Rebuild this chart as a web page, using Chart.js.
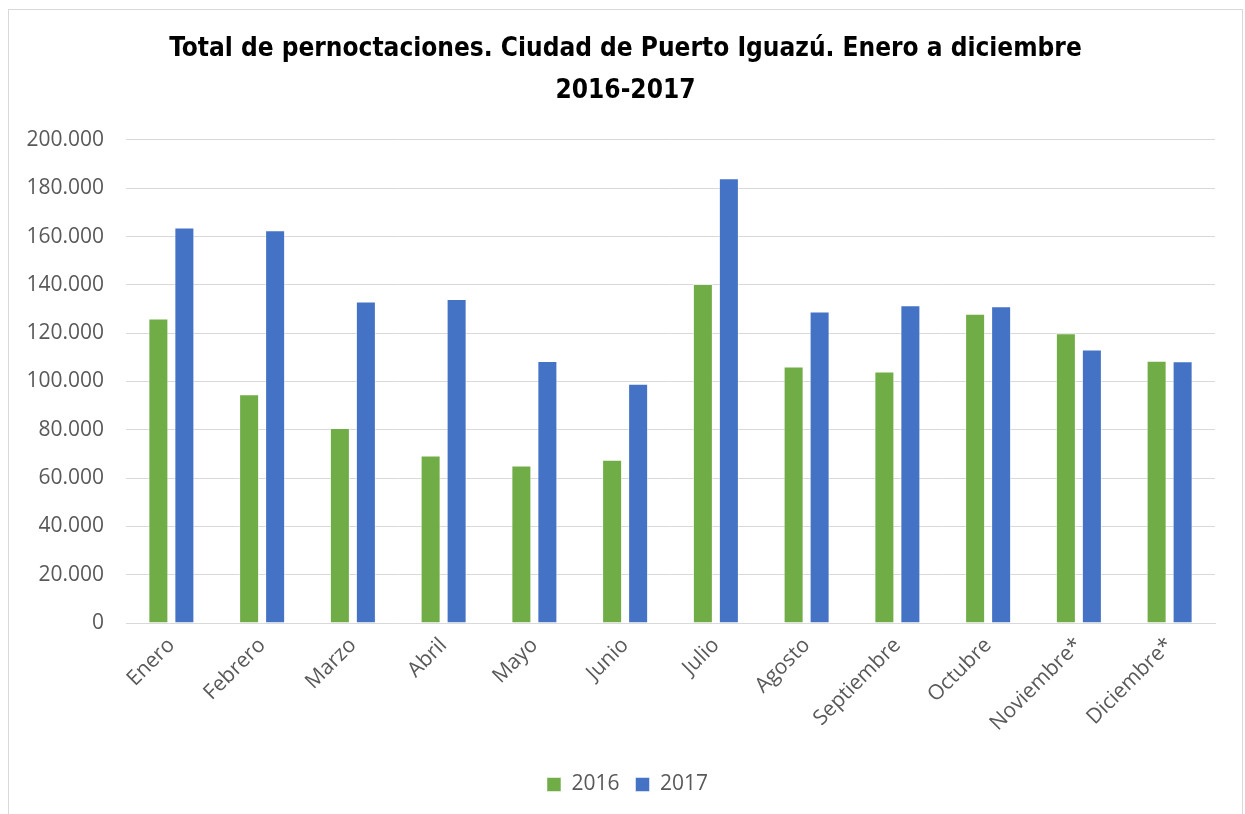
<!DOCTYPE html>
<html>
<head>
<meta charset="utf-8">
<script src="https://cdn.jsdelivr.net/npm/chart.js@4/dist/chart.umd.min.js"></script>
<style>
  html, body { margin: 0; padding: 0; background: #ffffff; overflow: hidden; }
  #frame { position: absolute; left: 8px; top: 9px; width: 1235px; height: 900px; border: 1px solid #d9d9d9; box-sizing: border-box; }
  #wrap { position: absolute; left: 0; top: 0; width: 1245px; height: 814px; }
</style>
</head>
<body>
<div id="frame"></div>
<div id="wrap"><canvas id="c" width="1245" height="814"></canvas></div>
<script>
const categories = ["Enero", "Febrero", "Marzo", "Abril", "Mayo", "Junio", "Julio", "Agosto", "Septiembre", "Octubre", "Noviembre*", "Diciembre*"];
const values2016 = [126100, 94700, 80700, 69400, 65200, 67600, 140400, 106200, 104100, 128100, 120000, 108600];
const values2017 = [163800, 162600, 133100, 134200, 108500, 99100, 184200, 129000, 131600, 131200, 113200, 108400];
const seriesNames = ["2016", "2017"];
const titleLines = ["Total de pernoctaciones. Ciudad de Puerto Iguazú. Enero a diciembre", "2016-2017"];
const yMin = 0, yMax = 200000, yStep = 20000;

function fmt(v) {
  return String(Math.round(v)).replace(/\B(?=(\d{3})+(?!\d))/g, ".");
}

const tickFont = { family: "'Open Sans', sans-serif", size: 21 };
const tickColor = "#595959";

const shiftBoxes = {
  id: "shiftBoxes",
  afterLayout(chart) {
    const lg = chart.legend;
    if (lg) { lg.left += 20; lg.right += 20; }
    const tb = chart.titleBlock;
    if (tb) { tb.left += 18; tb.right += 18; }
  }
};

new Chart(document.getElementById("c"), {
  type: "bar",
  data: {
    labels: categories,
    datasets: [
      { label: seriesNames[0], data: values2016, backgroundColor: "#70AD47", borderColor: "rgba(255,255,255,0.5)", borderWidth: 1, categoryPercentage: 0.573, barPercentage: 0.77 },
      { label: seriesNames[1], data: values2017, backgroundColor: "#4472C4", borderColor: "rgba(255,255,255,0.5)", borderWidth: 1, categoryPercentage: 0.573, barPercentage: 0.77 }
    ]
  },
  plugins: [shiftBoxes],
  options: {
    responsive: false,
    animation: false,
    devicePixelRatio: 1,
    layout: { padding: { left: 0, right: 30, top: 28, bottom: 9 } },
    plugins: {
      title: {
        display: true,
        text: titleLines,
        color: "#000000",
        font: { family: "'DejaVu Sans Condensed', 'DejaVu Sans', sans-serif", size: 26, weight: "bold", lineHeight: 1.615 },
        padding: { top: 0, bottom: 28 }
      },
      legend: {
        display: true,
        position: "bottom",
        labels: {
          color: tickColor,
          font: tickFont,
          boxWidth: 14,
          boxHeight: 14,
          padding: 16
        }
      },
      tooltip: { enabled: false }
    },
    scales: {
      x: {
        grid: { display: false },
        border: { display: true, color: "#d9d9d9", width: 1 },
        ticks: { color: tickColor, font: tickFont, minRotation: 45, maxRotation: 45, padding: 2 },
        afterFit: (s) => { s.height = 135; }
      },
      y: {
        min: yMin,
        max: yMax,
        ticks: { stepSize: yStep, color: tickColor, font: tickFont, padding: 22, callback: (v) => fmt(v) },
        grid: { color: "#d9d9d9", lineWidth: 1, drawTicks: false },
        border: { display: false },
        afterFit: (s) => { s.width = 126; }
      }
    }
  }
});
</script>
</body>
</html>
